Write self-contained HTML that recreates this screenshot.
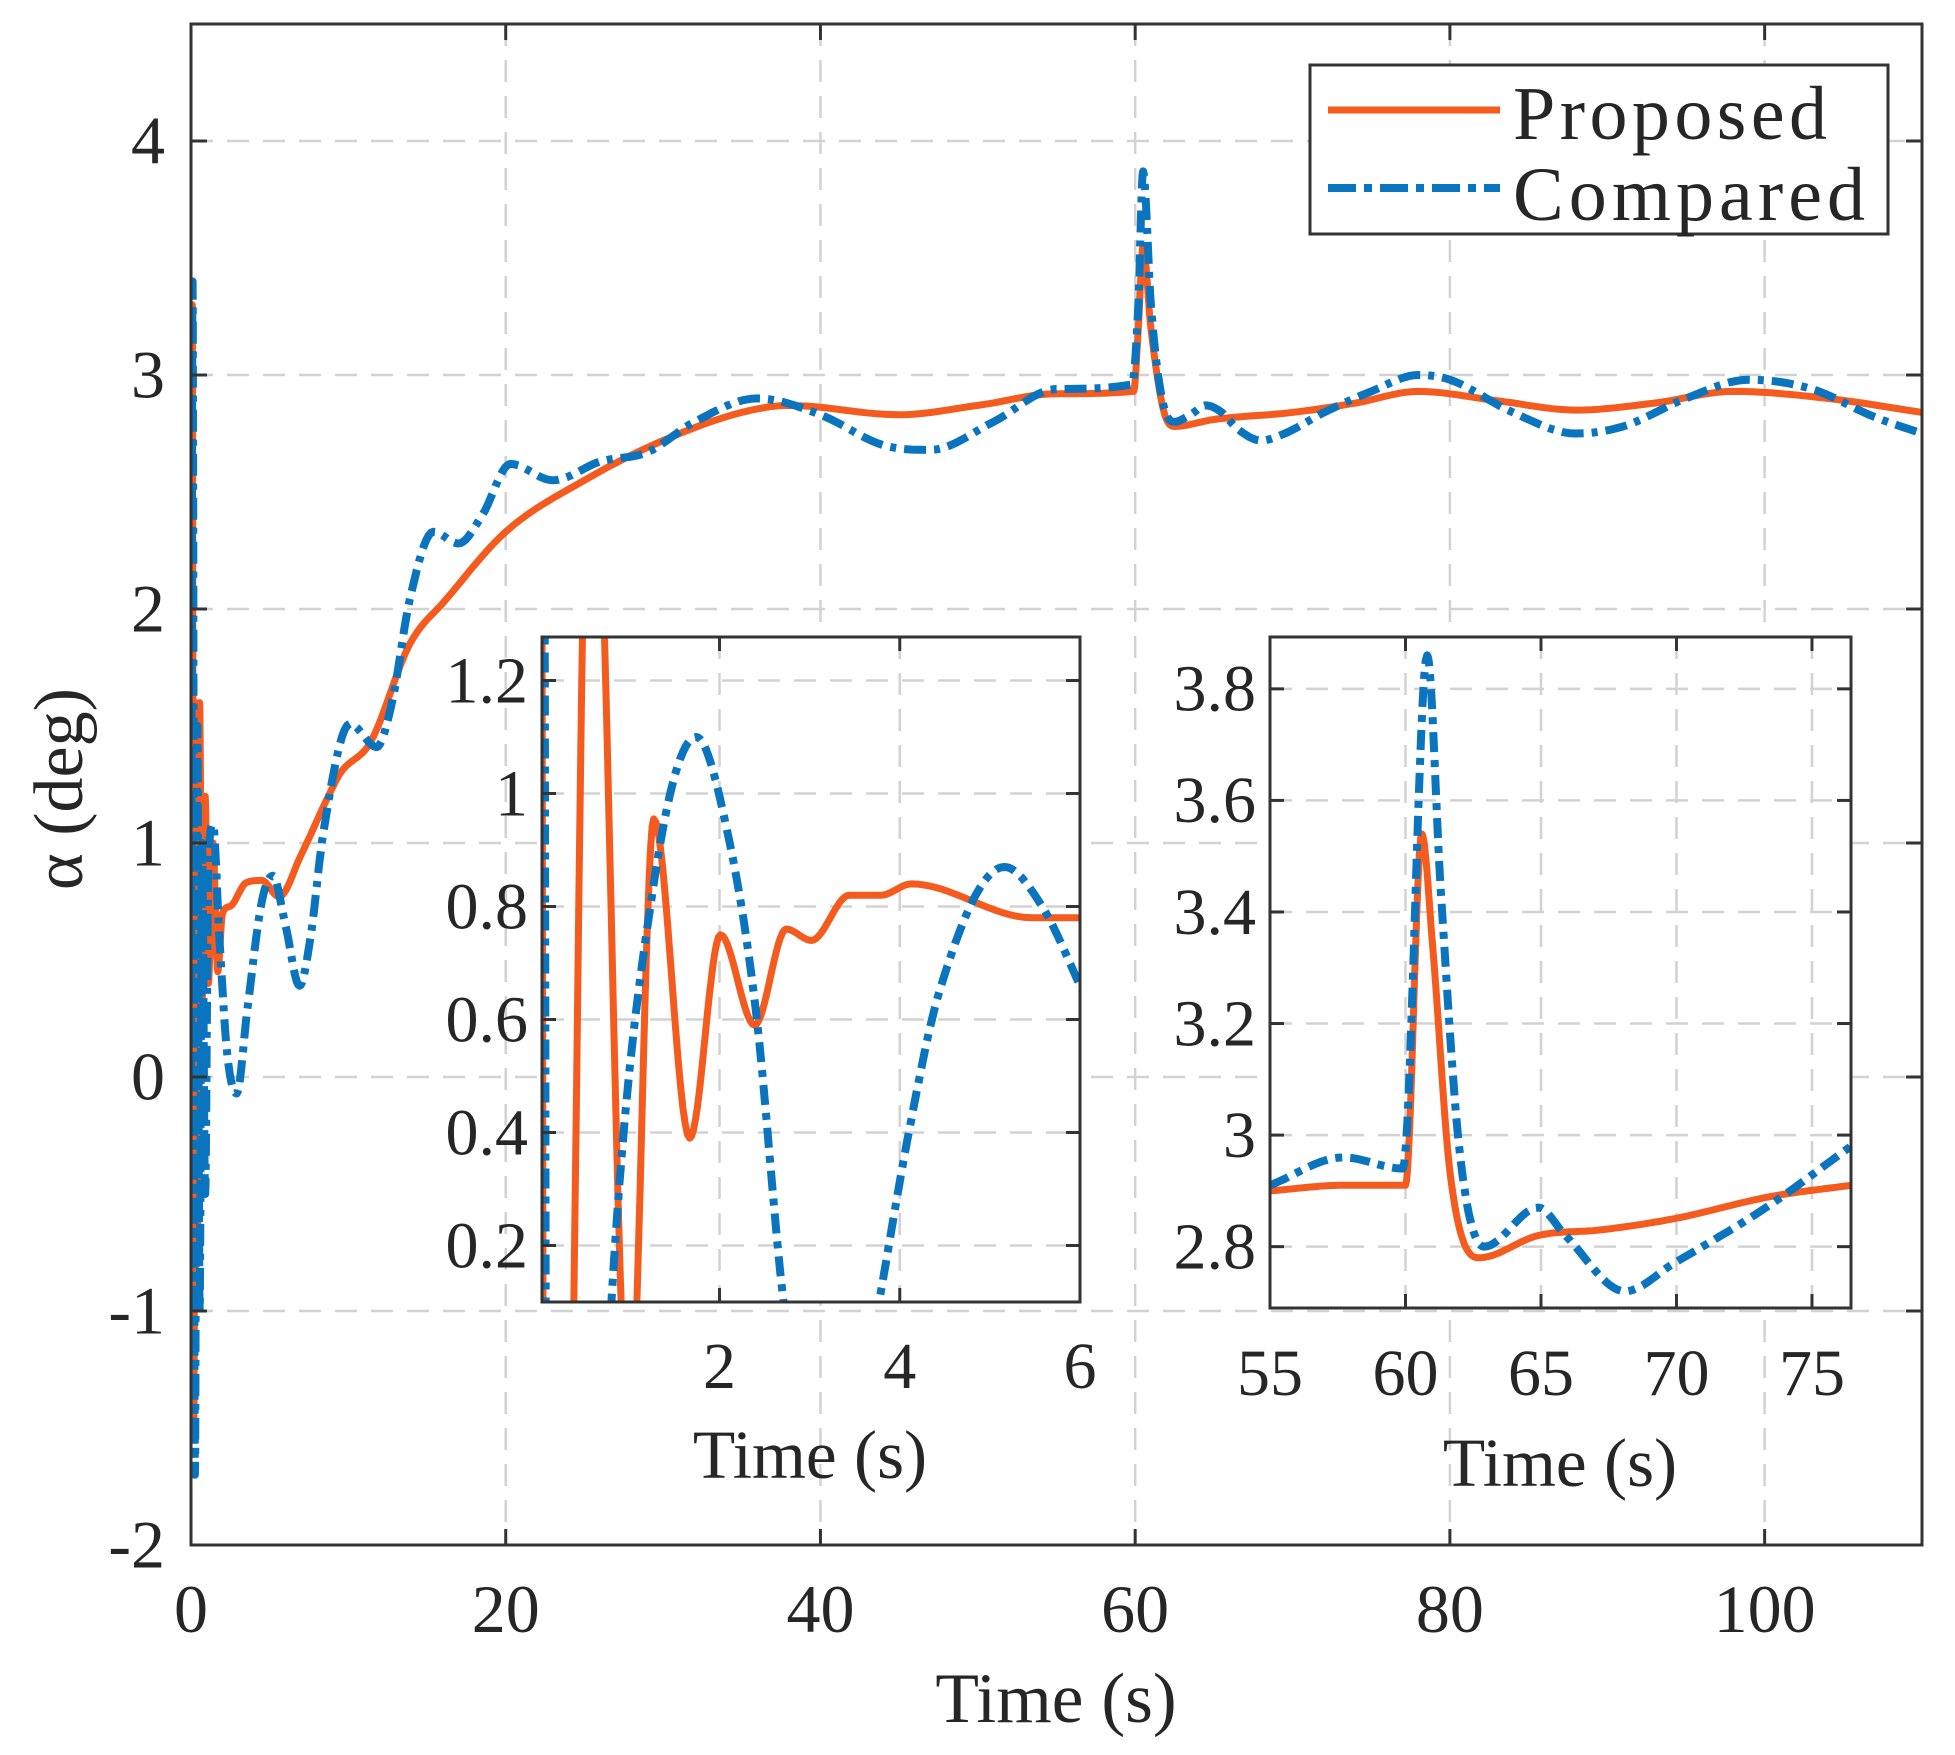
<!DOCTYPE html>
<html><head><meta charset="utf-8"><style>
html,body{margin:0;padding:0;background:#fff;overflow:hidden;width:1955px;height:1755px;}
svg{display:block;}
svg text{font-family:"Liberation Serif",serif;fill:#262626;}
</style></head><body>
<svg id="s" width="1955" height="1755" viewBox="0 0 1955 1755" xmlns="http://www.w3.org/2000/svg">
<defs>
<clipPath id="c0"><rect x="191" y="24" width="1731" height="1521"/></clipPath>
<clipPath id="c1"><rect x="542" y="637" width="538" height="665"/></clipPath>
<clipPath id="c2"><rect x="1270" y="637" width="581" height="671"/></clipPath>
</defs>
<g id="g"></g>
</svg>
<script>
var NS="http://www.w3.org/2000/svg",G=document.getElementById('g');
function el(t,a,txt,p){var e=document.createElementNS(NS,t);for(var k in a)e.setAttribute(k,a[k]);if(txt!=null)e.textContent=txt;(p||G).appendChild(e);return e;}
function mono(pts,n){
 var xs=pts.map(p=>p[0]),ys=pts.map(p=>p[1]),N=xs.length,d=[],m=[];
 for(var i=0;i<N-1;i++)d.push((ys[i+1]-ys[i])/(xs[i+1]-xs[i]));
 m[0]=d[0];m[N-1]=d[N-2];
 for(i=1;i<N-1;i++){m[i]=(d[i-1]*d[i]<=0)?0:(d[i-1]+d[i])/2;}
 for(i=0;i<N-1;i++){if(d[i]==0){m[i]=m[i+1]=0;continue;}var a=m[i]/d[i],b=m[i+1]/d[i],s=a*a+b*b;if(s>9){var t=3/Math.sqrt(s);m[i]=t*a*d[i];m[i+1]=t*b*d[i];}}
 var out=[];
 for(i=0;i<N-1;i++){var h=xs[i+1]-xs[i];for(var k=0;k<n;k++){var t=k/n,t2=t*t,t3=t2*t;
  var y=(2*t3-3*t2+1)*ys[i]+(t3-2*t2+t)*h*m[i]+(-2*t3+3*t2)*ys[i+1]+(t3-t2)*h*m[i+1];out.push([xs[i]+t*h,y]);}}
 out.push([xs[N-1],ys[N-1]]);return out;}
function axes(X0,X1,Y0,Y1,xl,xr,yb,yt,xt,yt2){
 var fx=v=>X0+(v-xl)/(xr-xl)*(X1-X0),fy=v=>Y1-(v-yb)/(yt-yb)*(Y1-Y0);
 xt.forEach(v=>{var x=fx(v);el('line',{x1:x,x2:x,y1:Y0,y2:Y1,stroke:'#d2d2d2','stroke-width':2.5,'stroke-dasharray':'22 14'});});
 yt2.forEach(v=>{var y=fy(v);el('line',{x1:X0,x2:X1,y1:y,y2:y,stroke:'#d2d2d2','stroke-width':2.5,'stroke-dasharray':'22 14'});});
 return {fx:fx,fy:fy};}
function frame(X0,X1,Y0,Y1,A,xt,yt,fs,xlab,ylabOff,tl,labY,xlabY,xlabX){
 el('rect',{x:X0,y:Y0,width:X1-X0,height:Y1-Y0,fill:'none',stroke:'#333','stroke-width':3});
 xt.forEach(v=>{var x=A.fx(v);el('line',{x1:x,x2:x,y1:Y1,y2:Y1-tl,stroke:'#333','stroke-width':3});el('line',{x1:x,x2:x,y1:Y0,y2:Y0+tl,stroke:'#333','stroke-width':3});
  el('text',{x:x,y:labY,'font-size':fs,'text-anchor':'middle'},String(v));});
 yt.forEach(v=>{var y=A.fy(v);el('line',{x1:X0,x2:X0+tl,y1:y,y2:y,stroke:'#333','stroke-width':3});el('line',{x1:X1,x2:X1-tl,y1:y,y2:y,stroke:'#333','stroke-width':3});
  el('text',{x:X0-ylabOff,y:y+fs*0.33,'font-size':fs,'text-anchor':'end'},String(v));});
 el('text',{x:xlabX,y:xlabY,'font-size':fs*1.05,'text-anchor':'middle'},'Time (s)');
}
function series(A,pts,clip,col,w,dash,n){
 var s=mono(pts,n||12),d='';s.forEach((p,i)=>{d+=(i?'L':'M')+A.fx(p[0]).toFixed(1)+' '+A.fy(p[1]).toFixed(1);});
 var a={d:d,fill:'none',stroke:col,'stroke-width':w,'stroke-linejoin':'round','clip-path':'url(#'+clip+')'};if(dash)a['stroke-dasharray']=dash;el('path',a);}
var OR='#F45B1E',BL='#0A74BF';
var M=axes(191,1922,24,1545,0,110,-2,4.5,[0,20,40,60,80,100],[-2,-1,0,1,2,3,4]);
var mo=[[0,0],[0.08,3.3],[0.18,-1.5],[0.3,1.6],[0.4,-0.8],[0.55,1.6],[0.7,0.3],[0.9,1.2],[1.1,0.4],[1.4,1.0],[1.7,0.45],[2,0.7],[2.5,0.73],[3.5,0.83],[4.5,0.84],[5.6,0.77],[7,0.95],[8.8,1.21],[9.5,1.3],[11.4,1.43],[13.9,1.85],[16.2,2.04],[20,2.33],[25,2.55],[30,2.72],[35,2.84],[38,2.87],[45,2.83],[50,2.87],[55,2.92],[59.9,2.93],[60.2,3.2],[60.5,3.55],[61,3.2],[61.8,2.85],[62.5,2.78],[65,2.81],[70,2.84],[74,2.88],[78,2.93],[83,2.89],[88,2.85],[93,2.88],[98,2.93],[104,2.9],[110,2.84]];
var mb=[[0,0],[0.1,3.4],[0.25,-1.7],[0.4,1.5],[0.55,-1.0],[0.7,1.0],[0.9,-0.5],[1.1,0.9],[1.4,1.08],[1.8,0.6],[2.3,0.1],[2.9,-0.07],[3.6,0.3],[4.5,0.75],[5.2,0.86],[6,0.65],[6.9,0.39],[7.6,0.6],[8.4,1.04],[10.1,1.51],[11.8,1.41],[12.8,1.61],[13.9,2.04],[15.4,2.33],[17,2.28],[18.5,2.4],[20.3,2.62],[23,2.55],[26,2.63],[29,2.67],[32,2.8],[36,2.9],[40,2.83],[44,2.7],[47,2.68],[51,2.8],[55,2.94],[59.8,2.96],[60.2,3.3],[60.5,3.87],[61,3.3],[61.7,2.9],[62.5,2.8],[63.5,2.83],[64.5,2.87],[65.5,2.84],[66.5,2.77],[68,2.72],[69.5,2.75],[72,2.84],[75,2.93],[78,3.0],[80,2.98],[84,2.84],[88,2.75],[91,2.78],[95,2.9],[99,2.98],[103,2.94],[107,2.82],[110,2.75]];
series(M,mo,'c0',OR,7,null,10);
series(M,mb,'c0',BL,8,'22 8 6 8',10);
frame(191,1922,24,1545,M,[0,20,40,60,80,100],[-2,-1,0,1,2,3,4],68,'',26,16,1632,1722,1056);
el('text',{x:0,y:0,'font-size':70,'text-anchor':'middle',transform:'translate(82,789) rotate(-90)'},'\u03B1 (deg)');
el('rect',{x:1310,y:65,width:578,height:169,fill:'#fff',stroke:'#333','stroke-width':3});
el('line',{x1:1328,x2:1500,y1:110,y2:110,stroke:OR,'stroke-width':7});
el('line',{x1:1328,x2:1500,y1:188,y2:188,stroke:BL,'stroke-width':8,'stroke-dasharray':'28 8 8 8'});
el('text',{x:1513,y:139,'font-size':76,textLength:314},'Proposed');
el('text',{x:1513,y:220,'font-size':76,textLength:352},'Compared');
el('rect',{x:542,y:637,width:538,height:665,fill:'#fff'});
var I1=axes(542,1080,637,1302,0.03,6,0.1,1.277,[2,4,6],[0.2,0.4,0.6,0.8,1,1.2]);
series(I1,[[0.02,2.5],[0.06,-1.2],[0.33,-0.4],[0.55,1.7],[0.6,1.7],[1.0,-0.15],[1.27,0.955],[1.67,0.39],[2.01,0.75],[2.39,0.59],[2.74,0.76],[3.02,0.74],[3.44,0.82],[3.79,0.82],[4.13,0.84],[5.47,0.78],[6.03,0.78]],'c1',OR,7,null,16);
series(I1,[[0.03,3],[0.06,1.3],[0.09,-1.5],[0.5,-1.0],[0.8,0.1],[1.27,0.84],[1.74,1.1],[2.09,0.93],[2.4,0.62],[2.71,0.1],[3.2,-0.4],[3.77,0.1],[4.1,0.4],[4.44,0.65],[5.16,0.87],[5.58,0.8],[6.03,0.65]],'c1',BL,8,'20 8 7 8',16);
frame(542,1080,637,1302,I1,[2,4,6],[0.2,0.4,0.6,0.8,1,1.2],66,'',14,14,1388,1478,810);
el('rect',{x:1270,y:637,width:581,height:671,fill:'#fff'});
var I2=axes(1270,1851,637,1308,55,76.44,2.69,3.893,[55,60,65,70,75],[2.8,3,3.2,3.4,3.6,3.8]);
series(I2,[[55,2.9],[57.7,2.91],[60.0,2.91],[60.6,3.54],[61.0,3.34],[61.65,2.93],[62.7,2.78],[64.9,2.82],[67.2,2.83],[69.9,2.85],[73.5,2.89],[76.44,2.91]],'c2',OR,7,null,16);
series(I2,[[55,2.91],[57.7,2.96],[59.9,2.94],[60.8,3.86],[61.3,3.44],[62.0,2.97],[62.9,2.8],[64.9,2.87],[65.9,2.82],[68.1,2.72],[69.9,2.77],[73.3,2.87],[76.44,2.98]],'c2',BL,8,'20 8 7 8',16);
frame(1270,1851,637,1308,I2,[55,60,65,70,75],[2.8,3,3.2,3.4,3.6,3.8],66,'',14,14,1395,1486,1560);
</script>
</body></html>
